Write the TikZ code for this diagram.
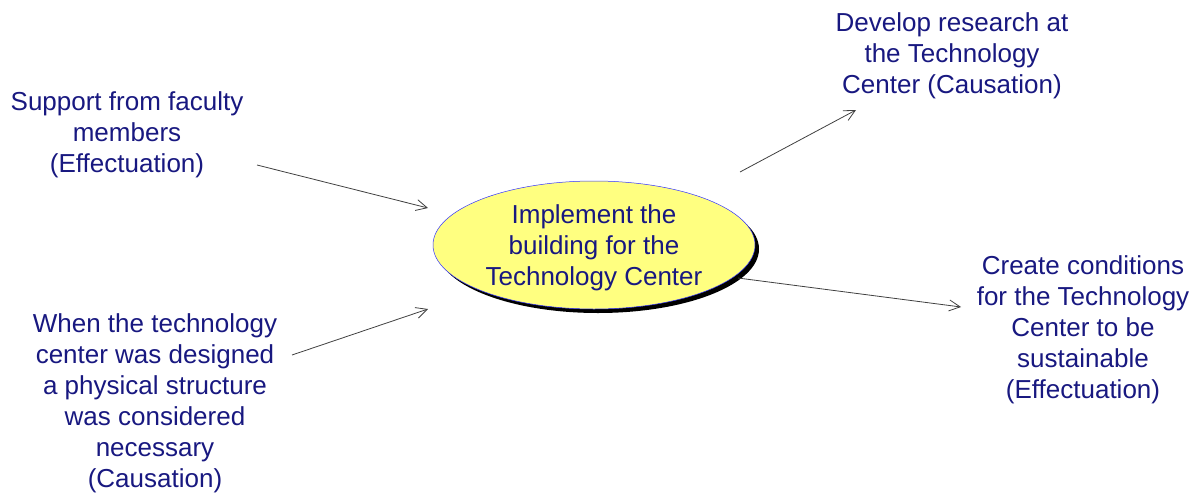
\documentclass[tikz,border=0pt]{standalone}
\usepackage{fontspec}
\setmainfont{Liberation Sans}
\usetikzlibrary{arrows.meta,shapes.geometric,shadows}

\definecolor{navytext}{RGB}{24,24,128}
\definecolor{paleyellow}{RGB}{255,255,128}

\begin{document}
\begin{tikzpicture}[x=1pt,y=-1pt,
	label/.style={text=navytext,align=center,inner sep=0pt,font=\fontsize{26}{31}\selectfont},
	hub/.style={ellipse,draw=blue!80,line width=0.5pt,fill=paleyellow,minimum width=322pt,minimum height=128pt,
		drop shadow={shadow xshift=4pt,shadow yshift=-4pt,fill=black,opacity=1}},
	link/.style={draw=black!75,line width=0.8pt,-{Straight Barb[length=11pt,width=11pt]}}]
	\useasboundingbox (0,0) rectangle (1195,496);

	% centre
	\node[hub,label,text depth=0pt] (build) at (594,245) {Implement the\\building for the\\Technology Center};

	% causes
	\node[label] (faculty) at (127,135) {Support from faculty\\members\\(Effectuation)};
	\node[label] (design) at (155,403) {When the technology\\center was designed\\a physical structure\\was considered\\necessary\\(Causation)};

	% effects
	\node[label] (research) at (952,56) {Develop research at\\the Technology\\Center (Causation)};
	\node[label] (sustain) at (1083,330) {Create conditions\\for the Technology\\Center to be\\sustainable\\(Effectuation)};

	% arrow ends
	\coordinate (faculty out) at (257,165);
	\coordinate (build in1) at (428,208);
	\coordinate (design out) at (292,355);
	\coordinate (build in2) at (428,309);
	\coordinate (build out1) at (740,172);
	\coordinate (research in) at (856,110);
	\coordinate (build out2) at (738,278);
	\coordinate (sustain in) at (961,307);

	\draw[link] (faculty out) -- (build in1);
	\draw[link] (design out) -- (build in2);
	\draw[link] (build out1) -- (research in);
	\draw[link] (build out2) -- (sustain in);
\end{tikzpicture}
\end{document}
